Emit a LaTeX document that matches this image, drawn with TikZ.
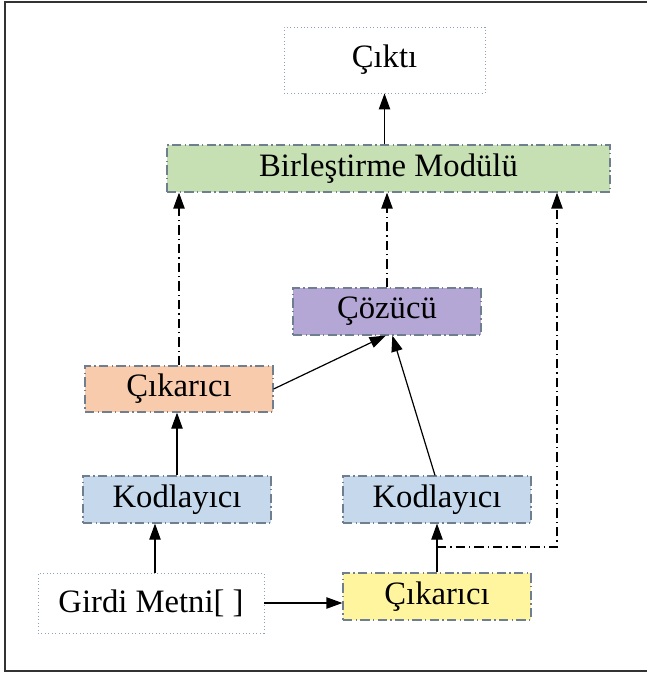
\documentclass[tikz,border=0pt]{standalone}
\usepackage{fontspec}
\setmainfont{Liberation Serif}
\usetikzlibrary{arrows.meta}
\definecolor{boxline}{HTML}{6F7F8F}
\definecolor{dotline}{HTML}{8FA0B8}
\definecolor{cgreen}{HTML}{C6E0B4}
\definecolor{cpurple}{HTML}{B4A7D6}
\definecolor{corange}{HTML}{F8CBAD}
\definecolor{cblue}{HTML}{C5D8EC}
\definecolor{cyellow}{HTML}{FFF59E}
\begin{document}
\begin{tikzpicture}[x=0.75pt,y=-0.75pt,
  base/.style={inner sep=0pt, text=black,
    font=\fontsize{24.5}{28}\selectfont},
  colbox/.style={base, draw=boxline, line width=0.9pt,
    dash pattern=on 7pt off 2.5pt on 1pt off 2.5pt,
    minimum width=141pt, minimum height=35.25pt},
  plainbox/.style={base, draw=dotline, line width=0.6pt, dotted, fill=white},
  arr/.style={draw=black, line width=0.9pt, -{Triangle[length=12pt,width=8.5pt]}},
  ddline/.style={arr, dash pattern=on 7pt off 3pt on 1pt off 3pt}]
\useasboundingbox (0,0) rectangle (646,673);
% outer frame (right edge lies outside the page)
\draw[line width=1.5pt, draw=black!80] (660,2) -- (5,2) -- (5,671) -- (660,671);

% boxes
\node[plainbox, minimum width=150.75pt, minimum height=49.5pt] (cikti) at (384.5,60) {Çıktı};
\node[colbox, fill=cgreen, minimum width=332.25pt] (birles) at (388.5,168.5) {Birleştirme Modülü};
\node[colbox, fill=cpurple] (cozucu) at (387,311.5) {Çözücü};
\node[colbox, fill=corange, minimum height=34.5pt] (cik1) at (179,389) {Çıkarıcı};
\node[colbox, fill=cblue] (kod1) at (177,499.5) {Kodlayıcı};
\node[colbox, fill=cblue] (kod2) at (437,499.5) {Kodlayıcı};
\node[plainbox, minimum width=169.5pt, minimum height=45pt] (girdi) at (151,603) {Girdi Metni[ ]};
\node[colbox, fill=cyellow] (cik2) at (437,596.5) {Çıkarıcı};

% solid connectors
\draw[arr] (birles.north -| cikti) -- (cikti.south);
\draw[arr] ([xshift=3pt]girdi.north) -- ([xshift=3pt]girdi.north |- kod1.south);
\draw[arr] (kod1.north) -- (kod1.north |- cik1.south);
\draw[arr] (girdi.east) -- (girdi.east -| cik2.west);
\draw[arr] (cik2.north) -- (kod2.south);
\draw[arr] (cik1.east) -- ([xshift=-1pt]cozucu.south);
\draw[arr] ([xshift=-1.5pt]kod2.north) -- ([xshift=4pt]cozucu.south);

% dash-dot connectors into the merging module
\coordinate (j) at (437,547);
\coordinate (k) at (557,547);
\draw[ddline] (cik1.north) -- (cik1.north |- birles.south);
\draw[ddline] (cozucu.north) -- (cozucu.north |- birles.south);
\draw[ddline] (j) -- (k) -- (k |- birles.south);
\end{tikzpicture}
\end{document}
